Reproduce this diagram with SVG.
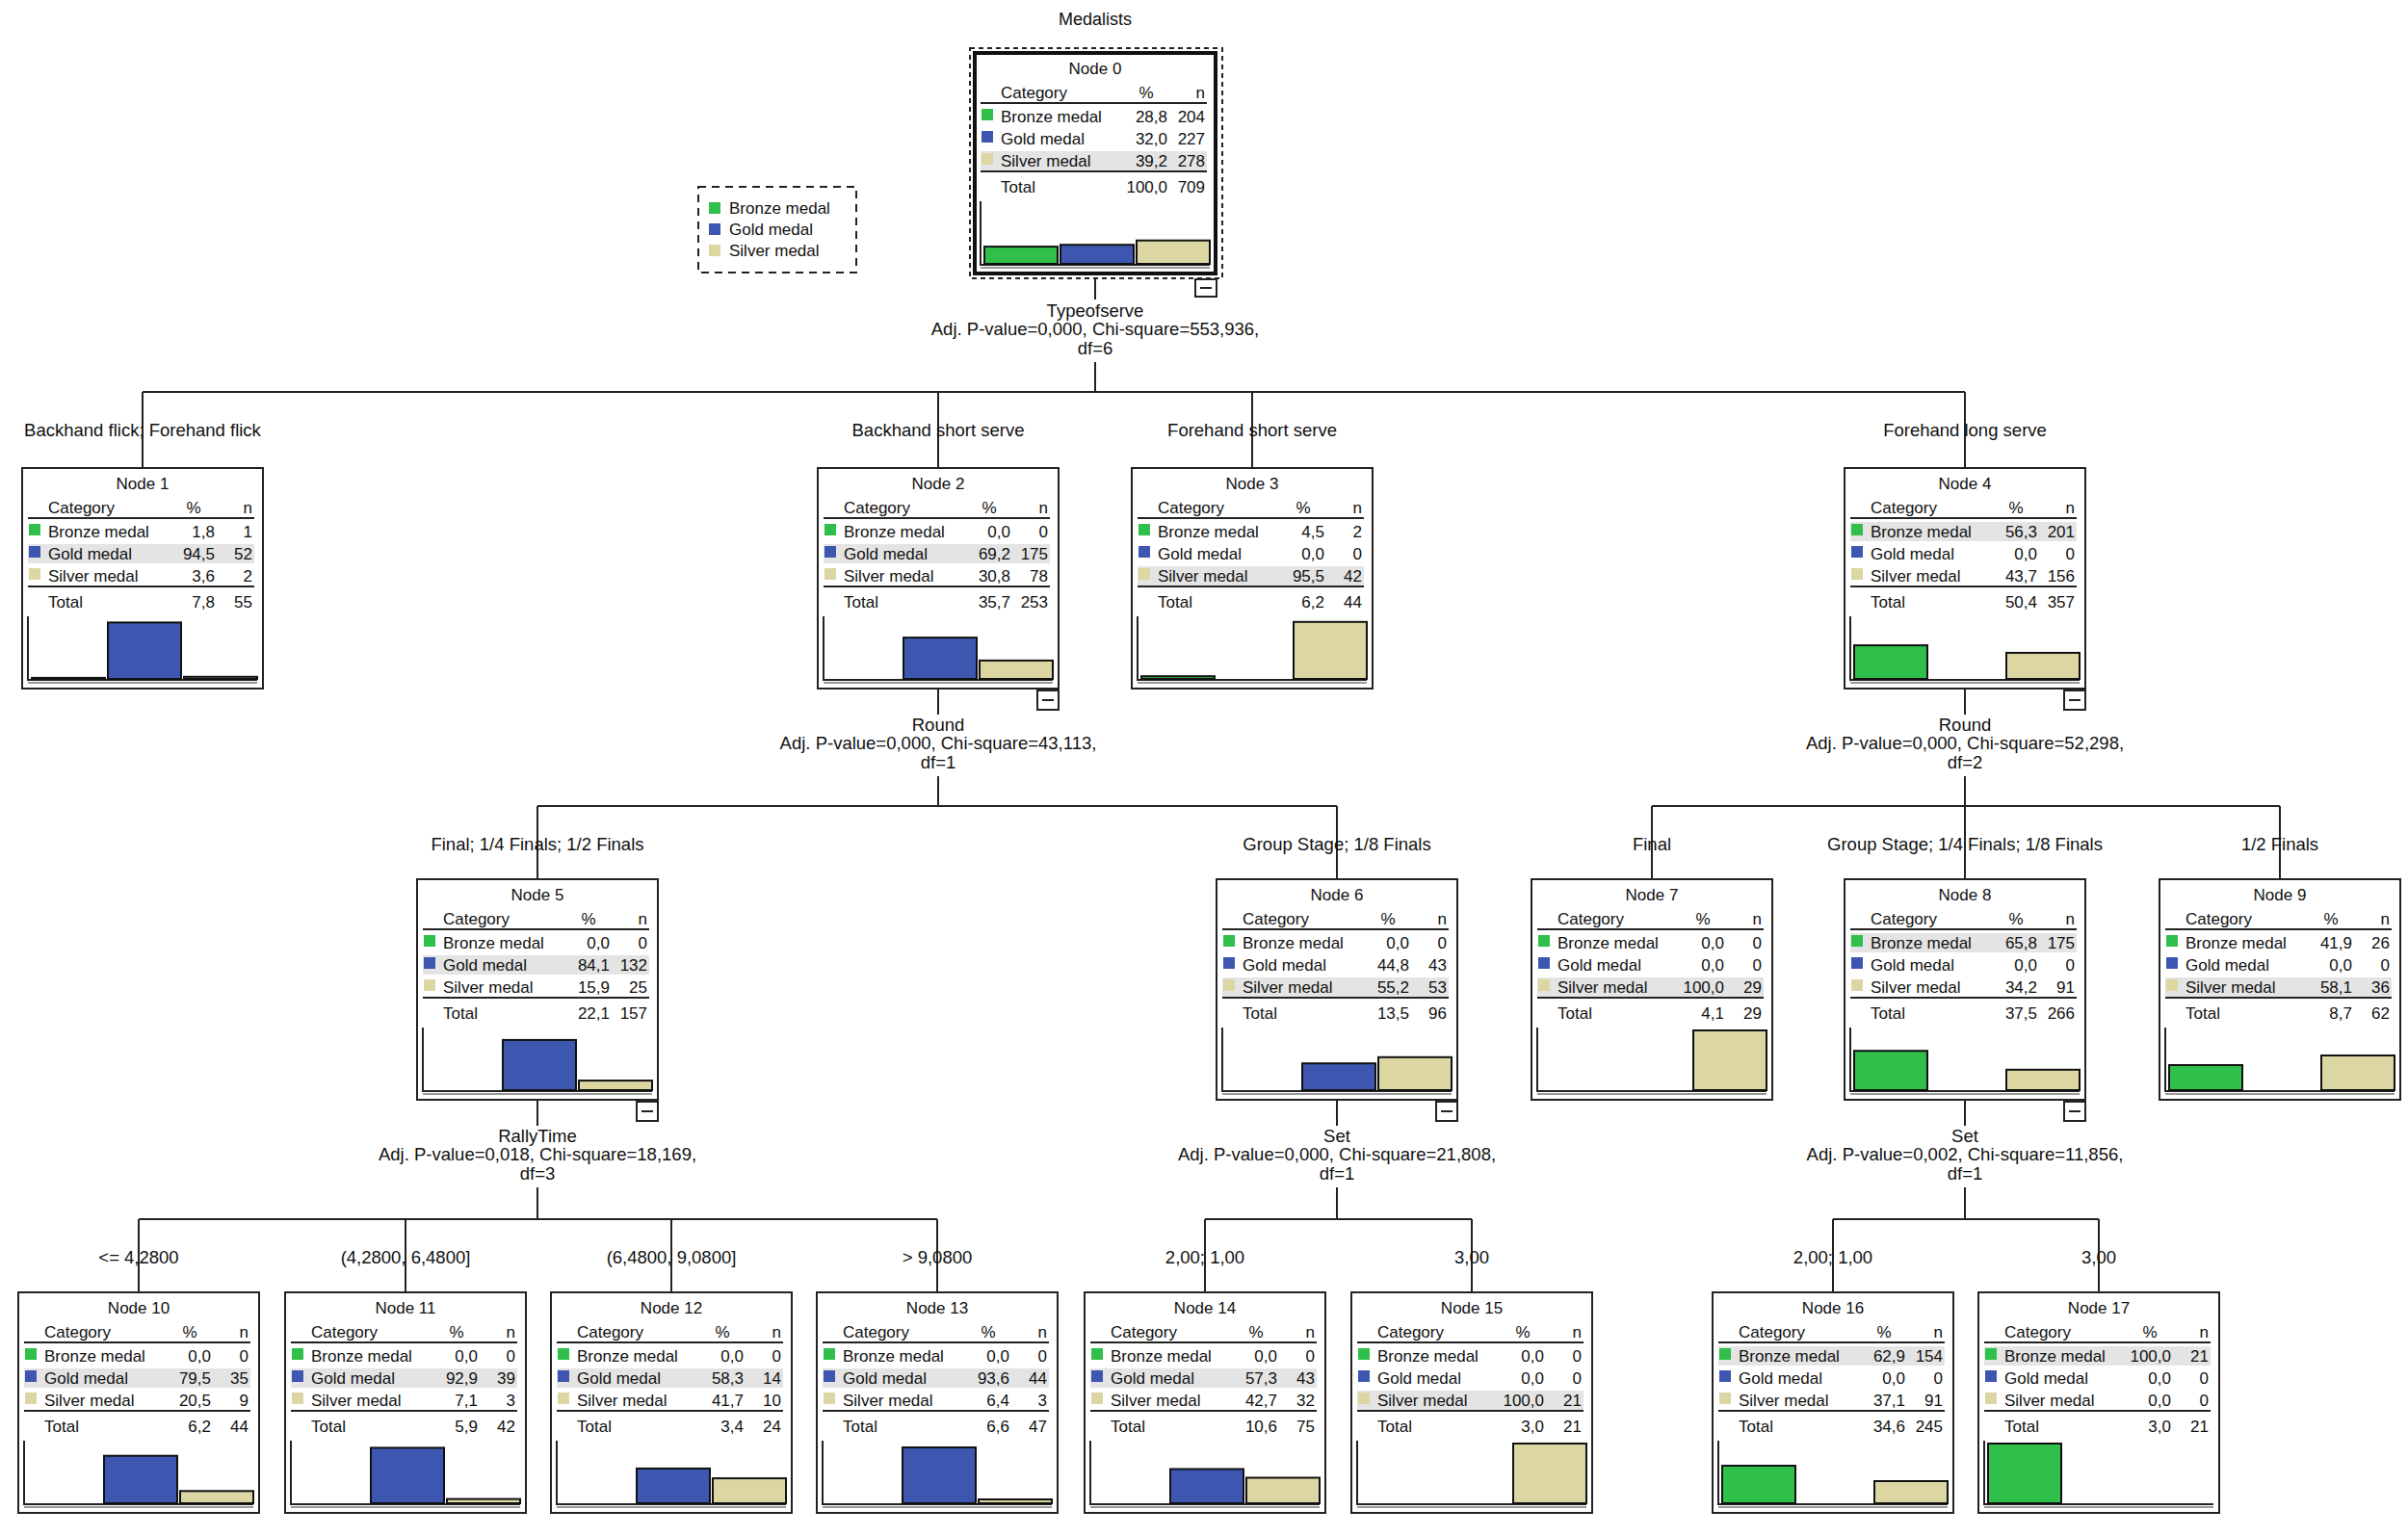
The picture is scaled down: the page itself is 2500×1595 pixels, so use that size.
<svg xmlns="http://www.w3.org/2000/svg" width="2500" height="1595" viewBox="0 0 2500 1595">
<style>
text{font-family:"Liberation Sans",Arial,sans-serif;font-size:17px;fill:#111}
#connectors text{font-size:18.5px}
.title{font-size:18px}
.m{text-anchor:middle}
.e{text-anchor:end}
.box{fill:#fff;stroke:#222;stroke-width:2}
.ln{stroke:#222;stroke-width:2;fill:none}
.ax{stroke:#222;stroke-width:2}
.ax2{stroke:#999;stroke-width:2}
.hl{fill:#e4e4e4}
.g{fill:#2fbf4a}
.b{fill:#3d57b0}
.s{fill:#dcd6a3}
.bar{stroke:#111;stroke-width:2}
.mn{fill:#fff;stroke:#222;stroke-width:2}
.c{stroke:#222;stroke-width:2;fill:none}
</style>
<defs>
<g id="sq">
<rect class="g" x="7" y="58" width="12" height="12"/>
<rect class="b" x="7" y="81" width="12" height="12"/>
<rect class="s" x="7" y="104" width="12" height="12"/>
</g>
<g id="frame">
<rect class="box" x="0" y="0" width="250" height="229"/>
<text x="27" y="47">Category</text><text class="m" x="178" y="47">%</text><text class="e" x="239" y="47">n</text>
<line class="ln" x1="6" y1="52" x2="241" y2="52"/>
<line class="ln" x1="6" y1="123" x2="241" y2="123"/>
<line class="ax" x1="6" y1="154" x2="6" y2="221"/>
<line class="ax" x1="6" y1="220" x2="244" y2="220"/>
<line class="ax2" x1="6" y1="223" x2="244" y2="223"/>
</g>
<g id="labels">
<text x="27" y="72">Bronze medal</text>
<text x="27" y="95">Gold medal</text>
<text x="27" y="118">Silver medal</text>
<text x="27" y="145">Total</text>
</g>
<g id="minus">
<rect class="mn" x="228" y="231" width="22" height="20"/>
<line class="ln" x1="233" y1="241" x2="245" y2="241"/>
</g>
</defs>

<text class="m title" x="1137" y="26">Medalists</text>

<g id="legend">
<rect x="725" y="194" width="164" height="89" fill="#fff" stroke="#222" stroke-width="2" stroke-dasharray="8,6"/>
<rect class="g" x="736" y="210" width="12" height="12"/>
<rect class="b" x="736" y="232" width="12" height="12"/>
<rect class="s" x="736" y="254" width="12" height="12"/>
<text x="757" y="222">Bronze medal</text>
<text x="757" y="244">Gold medal</text>
<text x="757" y="266">Silver medal</text>
</g>

<g id="connectors">
<line class="c" x1="1137" y1="289" x2="1137" y2="311"/>
<line class="c" x1="1137" y1="376" x2="1137" y2="407"/>
<line class="c" x1="148" y1="407" x2="2040" y2="407"/>
<line class="c" x1="148" y1="407" x2="148" y2="486"/>
<line class="c" x1="974" y1="407" x2="974" y2="486"/>
<line class="c" x1="1300" y1="407" x2="1300" y2="486"/>
<line class="c" x1="2040" y1="407" x2="2040" y2="486"/>
<text class="m" x="1137" y="329">Typeofserve</text>
<text class="m" x="1137" y="348">Adj. P-value=0,000, Chi-square=553,936,</text>
<text class="m" x="1137" y="368">df=6</text>
<text class="m" x="148" y="453">Backhand flick; Forehand flick</text>
<text class="m" x="974" y="453">Backhand short serve</text>
<text class="m" x="1300" y="453">Forehand short serve</text>
<text class="m" x="2040" y="453">Forehand long serve</text>

<line class="c" x1="974" y1="715" x2="974" y2="742"/>
<line class="c" x1="974" y1="806" x2="974" y2="837"/>
<line class="c" x1="558" y1="837" x2="1388" y2="837"/>
<line class="c" x1="558" y1="837" x2="558" y2="913"/>
<line class="c" x1="1388" y1="837" x2="1388" y2="913"/>
<text class="m" x="974" y="759">Round</text>
<text class="m" x="974" y="778">Adj. P-value=0,000, Chi-square=43,113,</text>
<text class="m" x="974" y="798">df=1</text>
<text class="m" x="558" y="883">Final; 1/4 Finals; 1/2 Finals</text>
<text class="m" x="1388" y="883">Group Stage; 1/8 Finals</text>

<line class="c" x1="2040" y1="715" x2="2040" y2="742"/>
<line class="c" x1="2040" y1="806" x2="2040" y2="837"/>
<line class="c" x1="1715" y1="837" x2="2367" y2="837"/>
<line class="c" x1="1715" y1="837" x2="1715" y2="913"/>
<line class="c" x1="2040" y1="837" x2="2040" y2="913"/>
<line class="c" x1="2367" y1="837" x2="2367" y2="913"/>
<text class="m" x="2040" y="759">Round</text>
<text class="m" x="2040" y="778">Adj. P-value=0,000, Chi-square=52,298,</text>
<text class="m" x="2040" y="798">df=2</text>
<text class="m" x="1715" y="883">Final</text>
<text class="m" x="2040" y="883">Group Stage; 1/4 Finals; 1/8 Finals</text>
<text class="m" x="2367" y="883">1/2 Finals</text>

<line class="c" x1="558" y1="1142" x2="558" y2="1169"/>
<line class="c" x1="558" y1="1233" x2="558" y2="1266"/>
<line class="c" x1="144" y1="1266" x2="973" y2="1266"/>
<line class="c" x1="144" y1="1266" x2="144" y2="1342"/>
<line class="c" x1="421" y1="1266" x2="421" y2="1342"/>
<line class="c" x1="697" y1="1266" x2="697" y2="1342"/>
<line class="c" x1="973" y1="1266" x2="973" y2="1342"/>
<text class="m" x="558" y="1186">RallyTime</text>
<text class="m" x="558" y="1205">Adj. P-value=0,018, Chi-square=18,169,</text>
<text class="m" x="558" y="1225">df=3</text>
<text class="m" x="144" y="1312">&lt;= 4,2800</text>
<text class="m" x="421" y="1312">(4,2800, 6,4800]</text>
<text class="m" x="697" y="1312">(6,4800, 9,0800]</text>
<text class="m" x="973" y="1312">&gt; 9,0800</text>

<line class="c" x1="1388" y1="1142" x2="1388" y2="1169"/>
<line class="c" x1="1388" y1="1233" x2="1388" y2="1266"/>
<line class="c" x1="1251" y1="1266" x2="1528" y2="1266"/>
<line class="c" x1="1251" y1="1266" x2="1251" y2="1342"/>
<line class="c" x1="1528" y1="1266" x2="1528" y2="1342"/>
<text class="m" x="1388" y="1186">Set</text>
<text class="m" x="1388" y="1205">Adj. P-value=0,000, Chi-square=21,808,</text>
<text class="m" x="1388" y="1225">df=1</text>
<text class="m" x="1251" y="1312">2,00; 1,00</text>
<text class="m" x="1528" y="1312">3,00</text>

<line class="c" x1="2040" y1="1142" x2="2040" y2="1169"/>
<line class="c" x1="2040" y1="1233" x2="2040" y2="1266"/>
<line class="c" x1="1903" y1="1266" x2="2179" y2="1266"/>
<line class="c" x1="1903" y1="1266" x2="1903" y2="1342"/>
<line class="c" x1="2179" y1="1266" x2="2179" y2="1342"/>
<text class="m" x="2040" y="1186">Set</text>
<text class="m" x="2040" y="1205">Adj. P-value=0,002, Chi-square=11,856,</text>
<text class="m" x="2040" y="1225">df=1</text>
<text class="m" x="1903" y="1312">2,00; 1,00</text>
<text class="m" x="2179" y="1312">3,00</text>
</g>

<g id="node0">
<rect x="1007" y="50" width="262" height="239" fill="none" stroke="#222" stroke-width="2" stroke-dasharray="5,4"/>
<g transform="translate(1012,55)">
<use href="#frame"/>
<rect x="0" y="0" width="250" height="229" fill="none" stroke="#111" stroke-width="4"/>
<rect class="hl" x="6" y="102" width="235" height="20"/>
<use href="#sq"/><use href="#labels"/>
<text class="m" x="125" y="22">Node 0</text>
<text class="e" x="200" y="72">28,8</text><text class="e" x="239" y="72">204</text>
<text class="e" x="200" y="95">32,0</text><text class="e" x="239" y="95">227</text>
<text class="e" x="200" y="118">39,2</text><text class="e" x="239" y="118">278</text>
<text class="e" x="200" y="145">100,0</text><text class="e" x="239" y="145">709</text>
<rect class="bar g" x="10" y="201.1" width="76" height="17.9"/>
<rect class="bar b" x="89" y="199.2" width="76" height="19.8"/>
<rect class="bar s" x="168" y="194.7" width="76" height="24.3"/>
<rect class="mn" x="229" y="235" width="22" height="18"/>
<line class="ln" x1="234" y1="244" x2="246" y2="244"/>
</g>
</g>

<g id="node1" transform="translate(23,486)">
<use href="#frame"/>
<rect class="hl" x="6" y="79" width="235" height="20"/>
<use href="#sq"/><use href="#labels"/>
<text class="m" x="125" y="22">Node 1</text>
<text class="e" x="200" y="72">1,8</text><text class="e" x="239" y="72">1</text>
<text class="e" x="200" y="95">94,5</text><text class="e" x="239" y="95">52</text>
<text class="e" x="200" y="118">3,6</text><text class="e" x="239" y="118">2</text>
<text class="e" x="200" y="145">7,8</text><text class="e" x="239" y="145">55</text>
<rect class="bar g" x="10" y="217.9" width="76" height="1.1"/>
<rect class="bar b" x="89" y="160.4" width="76" height="58.6"/>
<rect class="bar s" x="168" y="216.8" width="76" height="2.2"/>
</g>

<g id="node2" transform="translate(849,486)">
<use href="#frame"/>
<rect class="hl" x="6" y="79" width="235" height="20"/>
<use href="#sq"/><use href="#labels"/>
<text class="m" x="125" y="22">Node 2</text>
<text class="e" x="200" y="72">0,0</text><text class="e" x="239" y="72">0</text>
<text class="e" x="200" y="95">69,2</text><text class="e" x="239" y="95">175</text>
<text class="e" x="200" y="118">30,8</text><text class="e" x="239" y="118">78</text>
<text class="e" x="200" y="145">35,7</text><text class="e" x="239" y="145">253</text>
<rect class="bar b" x="89" y="176.1" width="76" height="42.9"/>
<rect class="bar s" x="168" y="199.9" width="76" height="19.1"/>
<use href="#minus"/>
</g>

<g id="node3" transform="translate(1175,486)">
<use href="#frame"/>
<rect class="hl" x="6" y="102" width="235" height="20"/>
<use href="#sq"/><use href="#labels"/>
<text class="m" x="125" y="22">Node 3</text>
<text class="e" x="200" y="72">4,5</text><text class="e" x="239" y="72">2</text>
<text class="e" x="200" y="95">0,0</text><text class="e" x="239" y="95">0</text>
<text class="e" x="200" y="118">95,5</text><text class="e" x="239" y="118">42</text>
<text class="e" x="200" y="145">6,2</text><text class="e" x="239" y="145">44</text>
<rect class="bar g" x="10" y="216.2" width="76" height="2.8"/>
<rect class="bar s" x="168" y="159.8" width="76" height="59.2"/>
</g>

<g id="node4" transform="translate(1915,486)">
<use href="#frame"/>
<rect class="hl" x="6" y="56" width="235" height="20"/>
<use href="#sq"/><use href="#labels"/>
<text class="m" x="125" y="22">Node 4</text>
<text class="e" x="200" y="72">56,3</text><text class="e" x="239" y="72">201</text>
<text class="e" x="200" y="95">0,0</text><text class="e" x="239" y="95">0</text>
<text class="e" x="200" y="118">43,7</text><text class="e" x="239" y="118">156</text>
<text class="e" x="200" y="145">50,4</text><text class="e" x="239" y="145">357</text>
<rect class="bar g" x="10" y="184.1" width="76" height="34.9"/>
<rect class="bar s" x="168" y="191.9" width="76" height="27.1"/>
<use href="#minus"/>
</g>

<g id="node5" transform="translate(433,913)">
<use href="#frame"/>
<rect class="hl" x="6" y="79" width="235" height="20"/>
<use href="#sq"/><use href="#labels"/>
<text class="m" x="125" y="22">Node 5</text>
<text class="e" x="200" y="72">0,0</text><text class="e" x="239" y="72">0</text>
<text class="e" x="200" y="95">84,1</text><text class="e" x="239" y="95">132</text>
<text class="e" x="200" y="118">15,9</text><text class="e" x="239" y="118">25</text>
<text class="e" x="200" y="145">22,1</text><text class="e" x="239" y="145">157</text>
<rect class="bar b" x="89" y="166.9" width="76" height="52.1"/>
<rect class="bar s" x="168" y="209.1" width="76" height="9.9"/>
<use href="#minus"/>
</g>

<g id="node6" transform="translate(1263,913)">
<use href="#frame"/>
<rect class="hl" x="6" y="102" width="235" height="20"/>
<use href="#sq"/><use href="#labels"/>
<text class="m" x="125" y="22">Node 6</text>
<text class="e" x="200" y="72">0,0</text><text class="e" x="239" y="72">0</text>
<text class="e" x="200" y="95">44,8</text><text class="e" x="239" y="95">43</text>
<text class="e" x="200" y="118">55,2</text><text class="e" x="239" y="118">53</text>
<text class="e" x="200" y="145">13,5</text><text class="e" x="239" y="145">96</text>
<rect class="bar b" x="89" y="191.2" width="76" height="27.8"/>
<rect class="bar s" x="168" y="184.8" width="76" height="34.2"/>
<use href="#minus"/>
</g>

<g id="node7" transform="translate(1590,913)">
<use href="#frame"/>
<rect class="hl" x="6" y="102" width="235" height="20"/>
<use href="#sq"/><use href="#labels"/>
<text class="m" x="125" y="22">Node 7</text>
<text class="e" x="200" y="72">0,0</text><text class="e" x="239" y="72">0</text>
<text class="e" x="200" y="95">0,0</text><text class="e" x="239" y="95">0</text>
<text class="e" x="200" y="118">100,0</text><text class="e" x="239" y="118">29</text>
<text class="e" x="200" y="145">4,1</text><text class="e" x="239" y="145">29</text>
<rect class="bar s" x="168" y="157" width="76" height="62"/>
</g>

<g id="node8" transform="translate(1915,913)">
<use href="#frame"/>
<rect class="hl" x="6" y="56" width="235" height="20"/>
<use href="#sq"/><use href="#labels"/>
<text class="m" x="125" y="22">Node 8</text>
<text class="e" x="200" y="72">65,8</text><text class="e" x="239" y="72">175</text>
<text class="e" x="200" y="95">0,0</text><text class="e" x="239" y="95">0</text>
<text class="e" x="200" y="118">34,2</text><text class="e" x="239" y="118">91</text>
<text class="e" x="200" y="145">37,5</text><text class="e" x="239" y="145">266</text>
<rect class="bar g" x="10" y="178.2" width="76" height="40.8"/>
<rect class="bar s" x="168" y="197.8" width="76" height="21.2"/>
<use href="#minus"/>
</g>

<g id="node9" transform="translate(2242,913)">
<use href="#frame"/>
<rect class="hl" x="6" y="102" width="235" height="20"/>
<use href="#sq"/><use href="#labels"/>
<text class="m" x="125" y="22">Node 9</text>
<text class="e" x="200" y="72">41,9</text><text class="e" x="239" y="72">26</text>
<text class="e" x="200" y="95">0,0</text><text class="e" x="239" y="95">0</text>
<text class="e" x="200" y="118">58,1</text><text class="e" x="239" y="118">36</text>
<text class="e" x="200" y="145">8,7</text><text class="e" x="239" y="145">62</text>
<rect class="bar g" x="10" y="193" width="76" height="26"/>
<rect class="bar s" x="168" y="183" width="76" height="36"/>
</g>

<g id="node10" transform="translate(19,1342)">
<use href="#frame"/>
<rect class="hl" x="6" y="79" width="235" height="20"/>
<use href="#sq"/><use href="#labels"/>
<text class="m" x="125" y="22">Node 10</text>
<text class="e" x="200" y="72">0,0</text><text class="e" x="239" y="72">0</text>
<text class="e" x="200" y="95">79,5</text><text class="e" x="239" y="95">35</text>
<text class="e" x="200" y="118">20,5</text><text class="e" x="239" y="118">9</text>
<text class="e" x="200" y="145">6,2</text><text class="e" x="239" y="145">44</text>
<rect class="bar b" x="89" y="169.7" width="76" height="49.3"/>
<rect class="bar s" x="168" y="206.3" width="76" height="12.7"/>
</g>

<g id="node11" transform="translate(296,1342)">
<use href="#frame"/>
<rect class="hl" x="6" y="79" width="235" height="20"/>
<use href="#sq"/><use href="#labels"/>
<text class="m" x="125" y="22">Node 11</text>
<text class="e" x="200" y="72">0,0</text><text class="e" x="239" y="72">0</text>
<text class="e" x="200" y="95">92,9</text><text class="e" x="239" y="95">39</text>
<text class="e" x="200" y="118">7,1</text><text class="e" x="239" y="118">3</text>
<text class="e" x="200" y="145">5,9</text><text class="e" x="239" y="145">42</text>
<rect class="bar b" x="89" y="161.4" width="76" height="57.6"/>
<rect class="bar s" x="168" y="214.6" width="76" height="4.4"/>
</g>

<g id="node12" transform="translate(572,1342)">
<use href="#frame"/>
<rect class="hl" x="6" y="79" width="235" height="20"/>
<use href="#sq"/><use href="#labels"/>
<text class="m" x="125" y="22">Node 12</text>
<text class="e" x="200" y="72">0,0</text><text class="e" x="239" y="72">0</text>
<text class="e" x="200" y="95">58,3</text><text class="e" x="239" y="95">14</text>
<text class="e" x="200" y="118">41,7</text><text class="e" x="239" y="118">10</text>
<text class="e" x="200" y="145">3,4</text><text class="e" x="239" y="145">24</text>
<rect class="bar b" x="89" y="182.9" width="76" height="36.1"/>
<rect class="bar s" x="168" y="193.1" width="76" height="25.9"/>
</g>

<g id="node13" transform="translate(848,1342)">
<use href="#frame"/>
<rect class="hl" x="6" y="79" width="235" height="20"/>
<use href="#sq"/><use href="#labels"/>
<text class="m" x="125" y="22">Node 13</text>
<text class="e" x="200" y="72">0,0</text><text class="e" x="239" y="72">0</text>
<text class="e" x="200" y="95">93,6</text><text class="e" x="239" y="95">44</text>
<text class="e" x="200" y="118">6,4</text><text class="e" x="239" y="118">3</text>
<text class="e" x="200" y="145">6,6</text><text class="e" x="239" y="145">47</text>
<rect class="bar b" x="89" y="161" width="76" height="58"/>
<rect class="bar s" x="168" y="215" width="76" height="4"/>
</g>

<g id="node14" transform="translate(1126,1342)">
<use href="#frame"/>
<rect class="hl" x="6" y="79" width="235" height="20"/>
<use href="#sq"/><use href="#labels"/>
<text class="m" x="125" y="22">Node 14</text>
<text class="e" x="200" y="72">0,0</text><text class="e" x="239" y="72">0</text>
<text class="e" x="200" y="95">57,3</text><text class="e" x="239" y="95">43</text>
<text class="e" x="200" y="118">42,7</text><text class="e" x="239" y="118">32</text>
<text class="e" x="200" y="145">10,6</text><text class="e" x="239" y="145">75</text>
<rect class="bar b" x="89" y="183.5" width="76" height="35.5"/>
<rect class="bar s" x="168" y="192.5" width="76" height="26.5"/>
</g>

<g id="node15" transform="translate(1403,1342)">
<use href="#frame"/>
<rect class="hl" x="6" y="102" width="235" height="20"/>
<use href="#sq"/><use href="#labels"/>
<text class="m" x="125" y="22">Node 15</text>
<text class="e" x="200" y="72">0,0</text><text class="e" x="239" y="72">0</text>
<text class="e" x="200" y="95">0,0</text><text class="e" x="239" y="95">0</text>
<text class="e" x="200" y="118">100,0</text><text class="e" x="239" y="118">21</text>
<text class="e" x="200" y="145">3,0</text><text class="e" x="239" y="145">21</text>
<rect class="bar s" x="168" y="157" width="76" height="62"/>
</g>

<g id="node16" transform="translate(1778,1342)">
<use href="#frame"/>
<rect class="hl" x="6" y="56" width="235" height="20"/>
<use href="#sq"/><use href="#labels"/>
<text class="m" x="125" y="22">Node 16</text>
<text class="e" x="200" y="72">62,9</text><text class="e" x="239" y="72">154</text>
<text class="e" x="200" y="95">0,0</text><text class="e" x="239" y="95">0</text>
<text class="e" x="200" y="118">37,1</text><text class="e" x="239" y="118">91</text>
<text class="e" x="200" y="145">34,6</text><text class="e" x="239" y="145">245</text>
<rect class="bar g" x="10" y="180" width="76" height="39"/>
<rect class="bar s" x="168" y="196" width="76" height="23"/>
</g>

<g id="node17" transform="translate(2054,1342)">
<use href="#frame"/>
<rect class="hl" x="6" y="56" width="235" height="20"/>
<use href="#sq"/><use href="#labels"/>
<text class="m" x="125" y="22">Node 17</text>
<text class="e" x="200" y="72">100,0</text><text class="e" x="239" y="72">21</text>
<text class="e" x="200" y="95">0,0</text><text class="e" x="239" y="95">0</text>
<text class="e" x="200" y="118">0,0</text><text class="e" x="239" y="118">0</text>
<text class="e" x="200" y="145">3,0</text><text class="e" x="239" y="145">21</text>
<rect class="bar g" x="10" y="157" width="76" height="62"/>
</g>
</svg>
